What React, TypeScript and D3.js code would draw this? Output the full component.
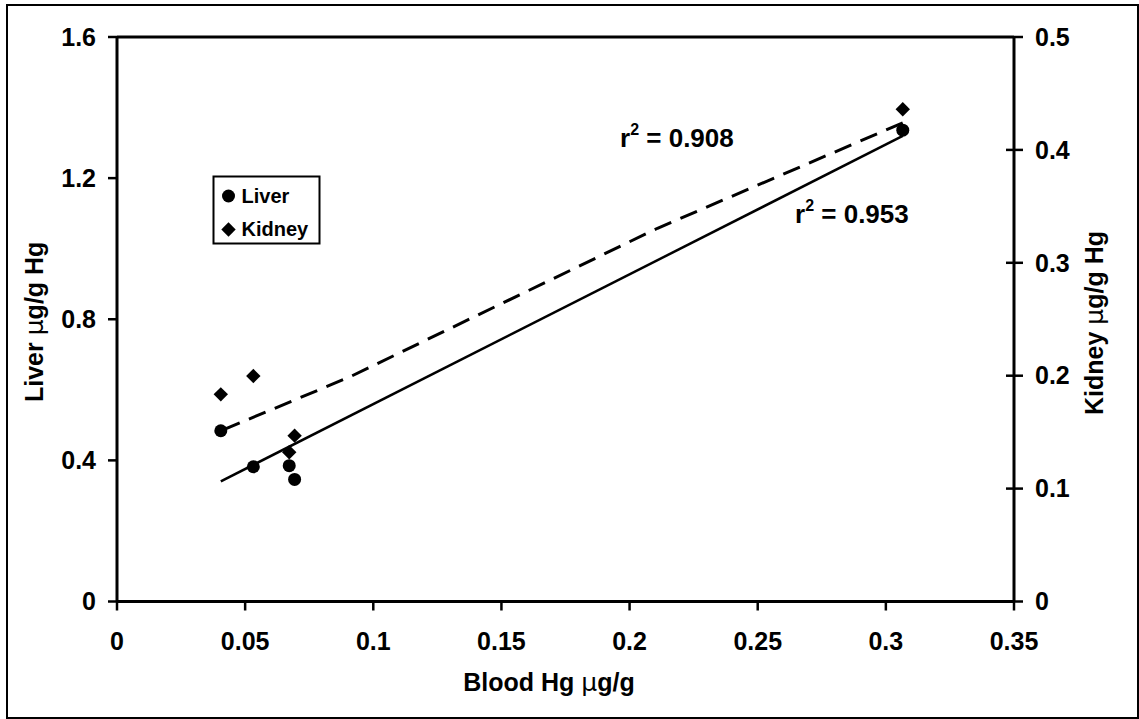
import React from "react";
import * as d3 from "d3";

const bloodHg = [0.0405, 0.0532, 0.0672, 0.0693, 0.3066];
const liverHg = [0.484, 0.382, 0.385, 0.346, 1.336];
const kidneyHg = [0.1835, 0.1997, 0.1322, 0.1469, 0.436];
// dashed kidney fit
const kidneyFitX = [0.0414, 0.091, 0.2109, 0.3066];
const kidneyFitY = [0.152, 0.1991, 0.3306, 0.424];

const xTicks = [0, 0.05, 0.1, 0.15, 0.2, 0.25, 0.3, 0.35];
const xTickLabels = ["0", "0.05", "0.1", "0.15", "0.2", "0.25", "0.3", "0.35"];
const leftTicks = [0, 0.4, 0.8, 1.2, 1.6];
const leftTickLabels = ["0", "0.4", "0.8", "1.2", "1.6"];
const rightTicks = [0, 0.1, 0.2, 0.3, 0.4, 0.5];
const rightTickLabels = ["0", "0.1", "0.2", "0.3", "0.4", "0.5"];
const seriesNames = ["Liver", "Kidney"];
const r2Labels = ["0.908", "0.953"];

const FONT = "'Liberation Sans', Arial, Helvetica, sans-serif";

export default function App() {
  const L = 117, R = 1014, T = 37, B = 601.5;
  const x = d3.scaleLinear().domain([0, 0.35]).range([L, R]);
  const yL = d3.scaleLinear().domain([0, 1.6]).range([B, T]);
  const yR = d3.scaleLinear().domain([0, 0.5]).range([B, T]);

  // liver least-squares fit
  const mx = d3.mean(bloodHg)!;
  const my = d3.mean(liverHg)!;
  let sxy = 0, sxx = 0;
  bloodHg.forEach((v, i) => {
    sxy += (v - mx) * (liverHg[i] - my);
    sxx += (v - mx) * (v - mx);
  });
  const slope = sxy / sxx;
  const icpt = my - slope * mx;
  const x0 = d3.min(bloodHg)!, x1 = d3.max(bloodHg)!;

  const kLine = d3
    .line<number>()
    .x((_, i) => x(kidneyFitX[i]))
    .y((d) => yR(d))(kidneyFitY);

  const diamondPath = (cx: number, cy: number) => {
    const s = 7.2;
    return `M${cx},${cy - s}L${cx + s},${cy}L${cx},${cy + s}L${cx - s},${cy}Z`;
  };

  const mu = (
    <tspan fontFamily="'DejaVu Sans', sans-serif" fontWeight="normal">
      μ
    </tspan>
  );

  return (
    <svg
      width={1139}
      height={719}
      style={{ position: "absolute", left: 0, top: 0, background: "#fff" }}
      fontFamily={FONT}
      fontWeight="bold"
    >
      <rect x={7} y={5} width={1131} height={713} fill="#fff" stroke="#000" strokeWidth={2} />

      {/* plot frame */}
      <line x1={L} x2={R} y1={T} y2={T} stroke="#000" strokeWidth={3} />
      <line x1={L} x2={L} y1={T} y2={B} stroke="#000" strokeWidth={3} />
      <line x1={R} x2={R} y1={T} y2={B} stroke="#000" strokeWidth={3} />
      <line x1={L} x2={R} y1={B} y2={B} stroke="#000" strokeWidth={3} />

      {/* x ticks */}
      {xTicks.map((t, i) => (
        <g key={"x" + i}>
          <line x1={x(t)} x2={x(t)} y1={B} y2={B + 9} stroke="#000" strokeWidth={2.5} />
          <text x={x(t)} y={650} fontSize={25} textAnchor="middle">
            {xTickLabels[i]}
          </text>
        </g>
      ))}
      {/* left ticks */}
      {leftTicks.map((t, i) => (
        <g key={"l" + i}>
          <line x1={L - 9} x2={L} y1={yL(t)} y2={yL(t)} stroke="#000" strokeWidth={2.5} />
          <text x={96} y={yL(t)} dy="0.35em" fontSize={25} textAnchor="end">
            {leftTickLabels[i]}
          </text>
        </g>
      ))}
      {/* right ticks */}
      {rightTicks.map((t, i) => (
        <g key={"r" + i}>
          <line
            x1={t === 0 || t === 0.5 ? R : R - 8}
            x2={R + 9}
            y1={yR(t)}
            y2={yR(t)}
            stroke="#000"
            strokeWidth={2.5}
          />
          <text x={1035} y={yR(t)} dy="0.35em" fontSize={25} textAnchor="start">
            {rightTickLabels[i]}
          </text>
        </g>
      ))}

      {/* axis titles */}
      <text x={549} y={691} fontSize={25} textAnchor="middle">
        Blood Hg {mu}g/g
      </text>
      <text transform="translate(43,402) rotate(-90)" fontSize={25} textAnchor="start">
        Liver {mu}g/g Hg
      </text>
      <text transform="translate(1103,415) rotate(-90)" fontSize={25} textAnchor="start">
        Kidney {mu}g/g Hg
      </text>

      {/* fit lines */}
      <line
        x1={x(x0)}
        y1={yL(icpt + slope * x0)}
        x2={x(x1)}
        y2={yL(icpt + slope * x1)}
        stroke="#000"
        strokeWidth={2.5}
      />
      <path d={kLine!} fill="none" stroke="#000" strokeWidth={3} strokeDasharray="18 10" />

      {/* points */}
      {bloodHg.map((v, i) => (
        <circle key={"c" + i} cx={x(v)} cy={yL(liverHg[i])} r={6.5} fill="#000" />
      ))}
      {bloodHg.map((v, i) => (
        <path key={"d" + i} d={diamondPath(x(v), yR(kidneyHg[i]))} fill="#000" />
      ))}

      {/* r2 labels */}
      <text x={620} y={147} fontSize={26}>
        r<tspan dy={-12} fontSize={16}>2</tspan>
        <tspan dy={12}> = {r2Labels[0]}</tspan>
      </text>
      <text x={795} y={223} fontSize={26}>
        r<tspan dy={-12} fontSize={16}>2</tspan>
        <tspan dy={12}> = {r2Labels[1]}</tspan>
      </text>

      {/* legend */}
      <rect x={213.5} y={176.5} width={106} height={67} fill="#fff" stroke="#000" strokeWidth={2} />
      <circle cx={228.5} cy={196} r={6.5} fill="#000" />
      <path d={diamondPath(228.5, 229.5)} fill="#000" />
      <text x={241.5} y={203} fontSize={20}>
        {seriesNames[0]}
      </text>
      <text x={241.5} y={236} fontSize={20}>
        {seriesNames[1]}
      </text>
    </svg>
  );
}
